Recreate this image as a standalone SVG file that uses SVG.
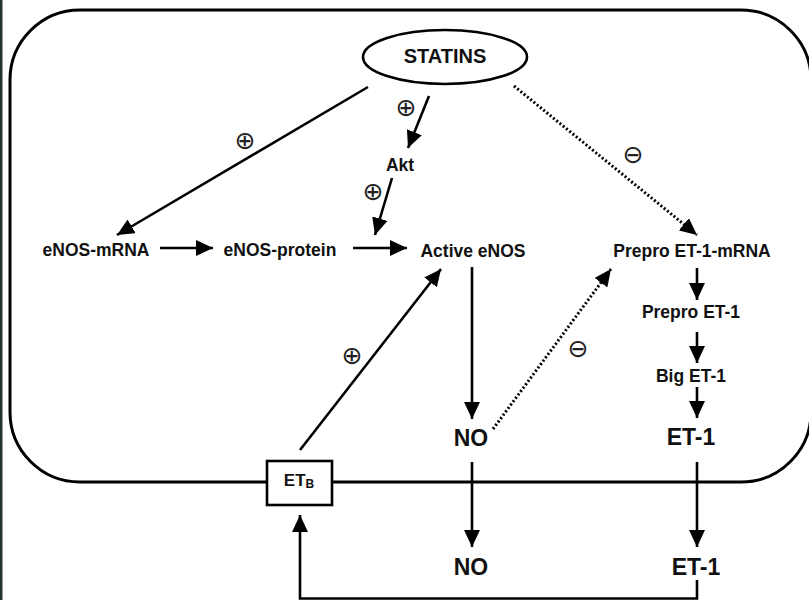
<svg xmlns="http://www.w3.org/2000/svg" width="809" height="600" viewBox="0 0 809 600">
  <style>
    .lbl { font-family: "Liberation Sans", Arial, Helvetica, sans-serif; font-weight: bold; fill: #111; text-anchor: middle; }
    .sm { font-size: 17.5px; }
    .lg { font-size: 23px; }
    .sign { font-family: "DejaVu Sans", sans-serif; font-size: 25px; fill: #222; text-anchor: middle; }
    .edge { stroke: #000; stroke-width: 2.6; fill: none; }
    .dot { stroke: #000; stroke-width: 3; fill: none; stroke-dasharray: 2 2.2; }
  </style>
  <defs>
    <marker id="head" markerUnits="userSpaceOnUse" markerWidth="18" markerHeight="16" refX="17" refY="8" orient="auto">
      <path d="M0,0 L17,8 L0,16 z" fill="#000"/>
    </marker>
  </defs>

  <rect x="0" y="0" width="809" height="600" fill="#fff"/>
  <rect x="0" y="0" width="2.5" height="600" fill="#223334"/>

  <!-- cell boundary -->
  <rect id="cell" x="10" y="10" width="801" height="472" rx="70" ry="70" fill="none" stroke="#000" stroke-width="3"/>

  <g id="connectors">
    <line class="edge" x1="368" y1="87" x2="117" y2="235" marker-end="url(#head)"/>
    <line class="edge" x1="429" y1="96" x2="408" y2="148" marker-end="url(#head)"/>
    <line class="edge" x1="392" y1="178" x2="375" y2="235" marker-end="url(#head)"/>
    <line class="edge" x1="160" y1="248" x2="213" y2="248" marker-end="url(#head)"/>
    <line class="edge" x1="353" y1="248" x2="407" y2="248" marker-end="url(#head)"/>
    <line class="dot" x1="514" y1="86" x2="697" y2="235" marker-end="url(#head)"/>
    <line class="edge" x1="472" y1="267" x2="472" y2="419" marker-end="url(#head)"/>
    <line class="edge" x1="472" y1="462" x2="472" y2="547" marker-end="url(#head)"/>
    <line class="dot" x1="493" y1="429" x2="611" y2="269" marker-end="url(#head)"/>
    <line class="edge" x1="300" y1="450" x2="441" y2="269" marker-end="url(#head)"/>
    <line class="edge" x1="697" y1="268" x2="697" y2="300" marker-end="url(#head)"/>
    <line class="edge" x1="697" y1="332" x2="697" y2="363" marker-end="url(#head)"/>
    <line class="edge" x1="697" y1="387" x2="697" y2="418" marker-end="url(#head)"/>
    <line class="edge" x1="697" y1="462" x2="697" y2="547" marker-end="url(#head)"/>
    <polyline class="edge" points="697,580 697,598.5 300,598.5 300,515" marker-end="url(#head)"/>
  </g>

  <g id="signs">
    <text class="sign" x="245" y="149">⊕</text>
    <text class="sign" x="406" y="116">⊕</text>
    <text class="sign" x="373" y="200">⊕</text>
    <text class="sign" x="352" y="364">⊕</text>
    <text class="sign" x="633" y="163">⊖</text>
    <text class="sign" x="578" y="357">⊖</text>
  </g>

  <g id="statins">
    <ellipse cx="445" cy="57" rx="82" ry="27" fill="#fff" stroke="#000" stroke-width="2.6"/>
    <text class="lbl" x="445" y="63" font-size="20">STATINS</text>
  </g>
  <g id="akt"><text class="lbl sm" x="400" y="171">Akt</text></g>
  <g id="enos-mrna"><text class="lbl sm" x="96" y="256">eNOS-mRNA</text></g>
  <g id="enos-protein"><text class="lbl sm" x="280" y="256">eNOS-protein</text></g>
  <g id="active-enos"><text class="lbl sm" x="473" y="257">Active eNOS</text></g>
  <g id="prepro-mrna"><text class="lbl sm" x="692" y="257">Prepro ET-1-mRNA</text></g>
  <g id="prepro-et1"><text class="lbl sm" x="691" y="318">Prepro ET-1</text></g>
  <g id="big-et1"><text class="lbl sm" x="691" y="382">Big ET-1</text></g>
  <g id="et1-in"><text class="lbl lg" x="691" y="445">ET-1</text></g>
  <g id="no-in"><text class="lbl lg" x="471" y="446">NO</text></g>
  <g id="no-out"><text class="lbl lg" x="471" y="575">NO</text></g>
  <g id="et1-out"><text class="lbl lg" x="696" y="575">ET-1</text></g>
  <g id="etb">
    <rect x="267" y="461" width="65" height="44" fill="#fff" stroke="#000" stroke-width="2.6"/>
    <text class="lbl" x="299" y="486" font-size="17">ET<tspan font-size="12" dy="1.5">B</tspan></text>
  </g>
</svg>
